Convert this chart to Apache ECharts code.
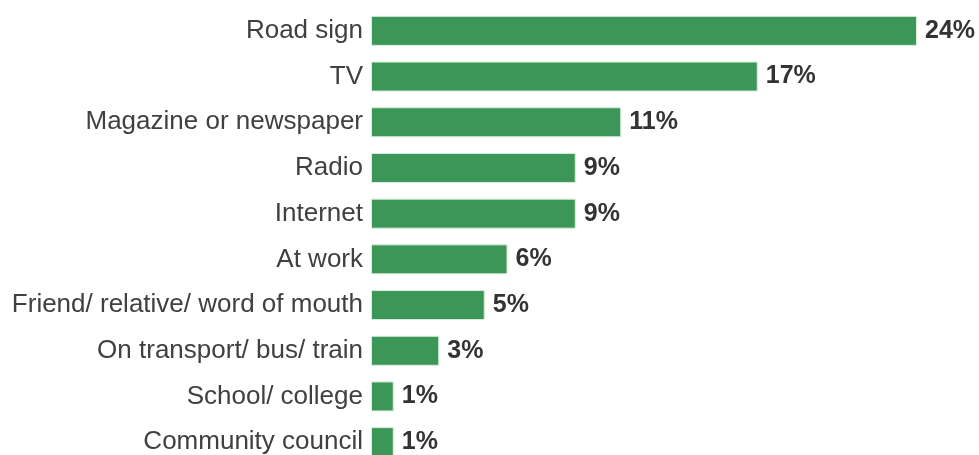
<!DOCTYPE html>
<html>
<head>
<meta charset="utf-8">
<script src="https://cdn.jsdelivr.net/npm/echarts@6/dist/echarts.min.js"></script>
<style>
  html, body { margin: 0; padding: 0; background: #fff; overflow: hidden; }
  /* the last row runs past the bottom edge of the window */
  #chart { width: 979px; height: 466px; }
</style>
</head>
<body>
<div id="chart"></div>
<script>
// Where people heard about it (share of responses, %)
const categories = [
  'Road sign',
  'TV',
  'Magazine or newspaper',
  'Radio',
  'Internet',
  'At work',
  'Friend/ relative/ word of mouth',
  'On transport/ bus/ train',
  'School/ college',
  'Community council'
];
const values = [24, 17, 11, 9, 9, 6, 5, 3, 1, 1];

const chart = echarts.init(document.getElementById('chart'), null, { renderer: 'canvas' });

chart.setOption({
  animation: false,
  backgroundColor: '#ffffff',
  grid: { left: 371, right: 62, top: 8, height: 457, containLabel: false },
  xAxis: {
    type: 'value',
    min: 0,
    max: 24,
    show: false
  },
  yAxis: {
    type: 'category',
    inverse: true,
    data: categories,
    axisLine: { show: false },
    axisTick: { show: false },
    axisLabel: {
      margin: 8,
      color: '#404040',
      fontFamily: 'Liberation Sans, Arial, sans-serif',
      fontSize: 26
    }
  },
  series: [{
    type: 'bar',
    data: values,
    barWidth: 30,
    itemStyle: {
      color: '#3c9657',
      borderColor: '#d8eedd',
      borderWidth: 1
    },
    label: {
      show: true,
      position: 'right',
      distance: 8,
      formatter: p => p.value + '%',
      color: '#333333',
      fontWeight: 'bold',
      fontFamily: 'Liberation Sans, Arial, sans-serif',
      fontSize: 25
    }
  }]
});
</script>
</body>
</html>
